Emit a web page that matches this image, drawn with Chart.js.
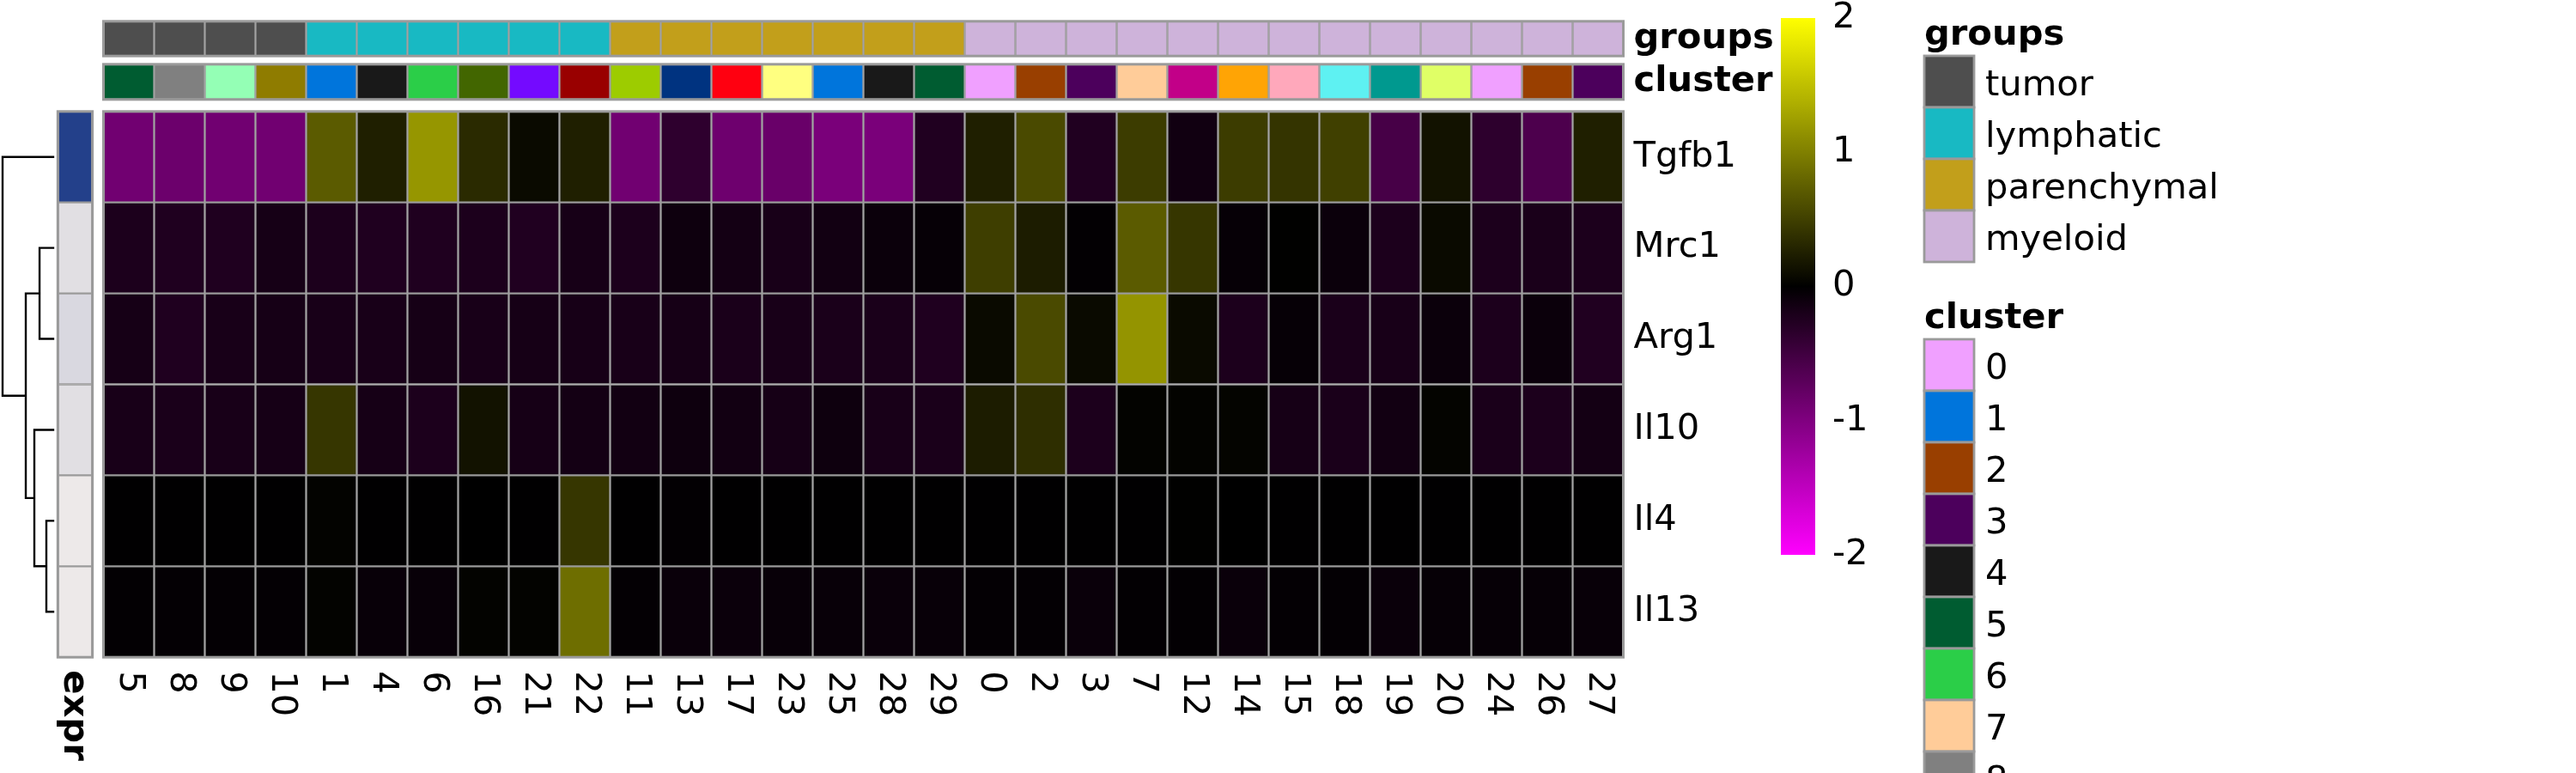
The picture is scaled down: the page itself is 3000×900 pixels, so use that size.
<!DOCTYPE html>
<html><head><meta charset="utf-8">
<script src="https://cdn.jsdelivr.net/npm/chart.js@4.4.1/dist/chart.umd.min.js"></script>
<style>
html,body{margin:0;padding:0;background:#fff;}
#wrap{position:relative;width:3000px;height:900px;overflow:hidden;background:#fff;}
canvas{position:absolute;}
</style></head><body>
<div id="wrap">
<canvas id="main" width="3000" height="900" style="left:0;top:0"></canvas>
<canvas id="dendro" width="120" height="900" style="left:0;top:0"></canvas>
<canvas id="cbar" width="260" height="900" style="left:2074px;top:0"></canvas>
</div>
<script>
// ---------------- DATA ----------------
const clusters = ['5','8','9','10','1','4','6','16','21','22','11','13','17','23','25','28','29','0','2','3','7','12','14','15','18','19','20','24','26','27'];
const columnGroups = ['tumor','tumor','tumor','tumor',
  'lymphatic','lymphatic','lymphatic','lymphatic','lymphatic','lymphatic',
  'parenchymal','parenchymal','parenchymal','parenchymal','parenchymal','parenchymal','parenchymal',
  'myeloid','myeloid','myeloid','myeloid','myeloid','myeloid','myeloid','myeloid','myeloid','myeloid','myeloid','myeloid','myeloid'];
const groupNames = ['tumor','lymphatic','parenchymal','myeloid'];
const groupColors = ['#4E4E4E','#18B9C3','#C29F1B','#CEB3DA'];
const clusterPalette = ['#F0A0FF','#0075DC','#993F00','#4C005C','#191919','#005C31','#2BCE48','#FFCC99',
  '#808080','#94FFB5','#8F7C00','#9DCC00','#C20088','#003380','#FFA405','#FFA8BB','#426600','#FF0010',
  '#5EF1F2','#00998F','#E0FF66','#740AFF','#990000','#FFFF80'];
const legendClusters = ['0','1','2','3','4','5','6','7','8','9','10','11','12','13','14','15','16','17','18','19','20','21','22','23','24','25','26','27','28','29'];

const genes = ['Tgfb1','Mrc1','Arg1','Il10','Il4','Il13'];
const tgfb1 = [-0.89,-0.85,-0.89,-0.89, 0.71,0.24,1.18,0.33,0.08,0.24, -0.89,-0.36,-0.86,-0.82,-0.96,-0.96,-0.25, 0.24,0.58,-0.25,0.47,-0.13,0.47,0.41,0.50,-0.56,0.14,-0.35,-0.60,0.24];
const mrc1  = [-0.22,-0.24,-0.24,-0.17, -0.22,-0.24,-0.24,-0.22,-0.25,-0.18, -0.22,-0.11,-0.16,-0.19,-0.14,-0.09,-0.05, 0.49,0.22,-0.02,0.71,0.42,-0.05,0.01,-0.09,-0.22,0.08,-0.22,-0.20,-0.22];
const arg1  = [-0.17,-0.24,-0.19,-0.17, -0.19,-0.19,-0.17,-0.19,-0.17,-0.18, -0.19,-0.17,-0.20,-0.19,-0.20,-0.20,-0.24, 0.08,0.58,0.08,1.16,0.08,-0.22,-0.05,-0.20,-0.19,-0.09,-0.22,-0.09,-0.25];
const il10  = [-0.19,-0.20,-0.19,-0.17, 0.42,-0.17,-0.22,0.14,-0.17,-0.16, -0.14,-0.11,-0.14,-0.17,-0.11,-0.19,-0.20, 0.22,0.36,-0.22,0.02,0.02,0.03,-0.17,-0.20,-0.14,0.03,-0.20,-0.22,-0.16];
const il4   = [-0.01,-0.01,-0.01,-0.01, 0.02,-0.01,-0.01,0.00,-0.01,0.42, -0.01,-0.02,-0.01,-0.01,-0.01,-0.01,-0.01, -0.01,-0.01,-0.01,-0.01,0.01,0.00,-0.01,-0.01,-0.01,-0.01,-0.01,-0.01,-0.01];
const il13  = [-0.02,-0.03,-0.03,-0.03, 0.02,-0.06,-0.06,0.02,0.02,0.86, -0.03,-0.08,-0.09,-0.06,-0.06,-0.08,-0.06, -0.03,-0.03,-0.08,-0.02,-0.02,-0.08,-0.03,-0.03,-0.08,-0.05,-0.05,-0.05,-0.06];
const geneValues = [tgfb1, mrc1, arg1, il10, il4, il13];

// row annotation "expr"
const exprValues = [1.0, 0.06, 0.10, 0.06, 0.0, 0.0];

// row dendrogram (leaves top->bottom = genes), merges with heights
const dendroMerges = [
  {a:'Mrc1', b:'Arg1', id:'A', h:0.27},
  {a:'Il4',  b:'Il13', id:'B', h:0.136},
  {a:'Il10', b:'B',    id:'C', h:0.373},
  {a:'A',    b:'C',    id:'D', h:0.542},
  {a:'Tgfb1',b:'D',    id:'R', h:1.0}
];
const colorbarTicks = [-2,-1,0,1,2];

// ---------------- STYLE / LAYOUT ----------------
const FONT = '"DejaVu Sans"';
const FS = 41.67;
Chart.defaults.font.family = 'DejaVu Sans';
Chart.defaults.color = '#000';
const GRID = '#9A9A9A';
const BW = 1.5;
const Y_MAX = 6.9915;
const GROUP_BAR = [6.610, 6.9915];
const CLUSTER_BAR = [6.132, 6.519];
const PAD = {left:120.5, right:0, top:24.8, bottom:134.8};
const HEAT_RIGHT = 1890.5;

function heatColor(v){
  const t = Math.min(1, Math.abs(v)/2);
  const c = Math.round(255*t);
  return v < 0 ? `rgb(${c},0,${c})` : `rgb(${c},${c},0)`;
}
function exprColor(v){
  const lo=[237,233,233], hi=[35,64,138];
  const c = lo.map((l,i)=>Math.round(l+(hi[i]-l)*v));
  return `rgb(${c[0]},${c[1]},${c[2]})`;
}
const clusterColor = c => clusterPalette[parseInt(c,10) % clusterPalette.length];

// ---------------- MAIN HEATMAP ----------------
const barCommon = {grouped:false, categoryPercentage:1, barPercentage:1, borderColor:GRID, borderWidth:BW, borderSkipped:false};
const datasets = [];
genes.forEach((g, gi) => {
  const r = genes.length - 1 - gi;
  datasets.push(Object.assign({label:g, data: clusters.map(() => [r, r+1]),
    backgroundColor: geneValues[gi].map(heatColor)}, barCommon));
});
datasets.push(Object.assign({label:'groups', data: clusters.map(() => GROUP_BAR.slice()),
  backgroundColor: columnGroups.map(g => groupColors[groupNames.indexOf(g)])}, barCommon));
datasets.push(Object.assign({label:'cluster', data: clusters.map(() => CLUSTER_BAR.slice()),
  backgroundColor: clusters.map(clusterColor)}, barCommon));

const rowTickValues = genes.map((g,gi) => genes.length - 1 - gi + 0.5)
  .concat([(CLUSTER_BAR[0]+CLUSTER_BAR[1])/2, (GROUP_BAR[0]+GROUP_BAR[1])/2]);
const rowTickLabels = genes.slice().concat(['cluster','groups']);

function drawLegend(ctx, title, items, colors, x, titleBaseline, boxTop){
  const bw = 58, bh = 60;
  ctx.fillStyle = '#000';
  ctx.font = `bold ${FS}px ${FONT}`;
  ctx.textAlign = 'left'; ctx.textBaseline = 'alphabetic';
  ctx.fillText(title, x, titleBaseline);
  ctx.font = `${FS}px ${FONT}`;
  items.forEach((it, i) => {
    const y = boxTop + i*bh;
    ctx.fillStyle = colors[i];
    ctx.fillRect(x, y, bw, bh);
    ctx.strokeStyle = GRID; ctx.lineWidth = 2.8;
    ctx.strokeRect(x, y, bw, bh);
    ctx.fillStyle = '#000';
    ctx.fillText(it, x + 71, y + bh/2 + 15.5);
  });
}

function strokeBlock(ctx, x0, x1, y0, y1){
  ctx.strokeStyle = GRID; ctx.lineWidth = 3;
  ctx.strokeRect(x0, Math.min(y0,y1), x1 - x0, Math.abs(y1 - y0));
}

const mainPlugin = {
  id:'mainExtras',
  afterDatasetsDraw(chart){
    const {ctx, chartArea:a, scales:{y}} = chart;
    ctx.save();
    strokeBlock(ctx, a.left, a.right, y.getPixelForValue(genes.length), y.getPixelForValue(0));
    strokeBlock(ctx, a.left, a.right, y.getPixelForValue(GROUP_BAR[1]), y.getPixelForValue(GROUP_BAR[0]));
    strokeBlock(ctx, a.left, a.right, y.getPixelForValue(CLUSTER_BAR[1]), y.getPixelForValue(CLUSTER_BAR[0]));
    ctx.restore();
  },
  afterDraw(chart){
    const {ctx, chartArea, scales} = chart;
    const x = scales.x;
    ctx.save();
    ctx.fillStyle = '#000';
    ctx.font = `${FS}px ${FONT}`;
    ctx.textAlign = 'left'; ctx.textBaseline = 'middle';
    clusters.forEach((c, i) => {
      ctx.save();
      ctx.translate(x.getPixelForValue(i) + 1, chartArea.bottom + 16);
      ctx.rotate(Math.PI/2);
      ctx.fillText(c, 0, 0);
      ctx.restore();
    });
    drawLegend(ctx, 'groups', groupNames, groupColors, 2241, 52, 65);
    drawLegend(ctx, 'cluster', legendClusters, legendClusters.map(clusterColor), 2241, 382, 395);
    ctx.restore();
  }
};

new Chart(document.getElementById('main'), {
  type:'bar',
  data:{labels:clusters, datasets},
  options:{
    responsive:false, animation:false, events:[],
    layout:{padding:PAD},
    plugins:{legend:{display:false}, tooltip:{enabled:false}},
    scales:{
      x:{type:'category', display:false, offset:true, grid:{display:false}},
      y:{type:'linear', position:'right', min:0, max:Y_MAX,
         grid:{display:false, drawTicks:false}, border:{display:false},
         afterBuildTicks: s => { s.ticks = rowTickValues.map(v => ({value:v})); },
         afterFit: s => { s.width = 3000 - HEAT_RIGHT; s.paddingTop = 0; s.paddingBottom = 0; },
         ticks:{padding:12, autoSkip:false, color:'#000',
           callback:(v, i) => rowTickLabels[i],
           font: c => ({family:'DejaVu Sans', size:FS, weight: c.index >= genes.length ? 'bold' : 'normal'})}
      }
    }
  },
  plugins:[mainPlugin]
});

// ---------------- DENDROGRAM + EXPR ANNOTATION ----------------
const EXPR_X = -0.432;
const EXPR_W = 40.3;
const leafY = {};
genes.forEach((g, gi) => { leafY[g] = genes.length - 1 - gi + 0.5; });
const nodePos = {};
genes.forEach(g => { nodePos[g] = {h:0, y:leafY[g]}; });
const dendroData = [];
dendroMerges.forEach(m => {
  const a = nodePos[m.a], b = nodePos[m.b];
  dendroData.push({x:a.h, y:a.y}, {x:m.h, y:a.y}, {x:m.h, y:b.y}, {x:b.h, y:b.y}, {x:null, y:null});
  nodePos[m.id] = {h:m.h, y:(a.y + b.y)/2};
});

const dendroPlugin = {
  id:'dendroExtras',
  afterDatasetsDraw(chart){
    const {ctx, scales:{x, y}} = chart;
    const cx = x.getPixelForValue(EXPR_X);
    ctx.save();
    strokeBlock(ctx, cx - EXPR_W/2, cx + EXPR_W/2, y.getPixelForValue(genes.length), y.getPixelForValue(0));
    ctx.restore();
  },
  afterDraw(chart){
    const {ctx, chartArea, scales} = chart;
    ctx.save();
    ctx.fillStyle = '#000';
    ctx.font = `bold ${FS}px ${FONT}`;
    ctx.textAlign = 'left'; ctx.textBaseline = 'middle';
    ctx.translate(scales.x.getPixelForValue(EXPR_X) - 2, chartArea.bottom + 15);
    ctx.rotate(Math.PI/2);
    ctx.fillText('expr', 0, 0);
    ctx.restore();
  }
};

new Chart(document.getElementById('dendro'), {
  type:'scatter',
  data:{datasets:[
    {type:'bar', label:'expr', data: genes.map((g, gi) => ({x:EXPR_X, y:[leafY[g]-0.5, leafY[g]+0.5]})),
     backgroundColor: exprValues.map(exprColor), borderColor:GRID, borderWidth:BW, borderSkipped:false,
     grouped:false, barThickness:EXPR_W},
    {type:'line', label:'dendrogram', data: dendroData, borderColor:'#000', borderWidth:2.4,
     pointRadius:0, fill:false, tension:0, spanGaps:false, borderCapStyle:'square'}
  ]},
  options:{
    responsive:false, animation:false, events:[],
    layout:{padding:{left:0,right:0,top:PAD.top,bottom:PAD.bottom}},
    plugins:{legend:{display:false}, tooltip:{enabled:false}},
    scales:{
      x:{type:'linear', display:false, reverse:true, min:-0.983, max:1.0508, offset:false},
      y:{type:'linear', display:false, min:0, max:Y_MAX}
    }
  },
  plugins:[dendroPlugin]
});

// ---------------- COLOR BAR ----------------
const cbarPlugin = {
  id:'cbarFill',
  beforeDraw(chart){
    const {ctx, chartArea:a, scales} = chart;
    const y = scales.y;
    const hi = colorbarTicks[colorbarTicks.length-1], lo = colorbarTicks[0];
    const g = ctx.createLinearGradient(0, y.getPixelForValue(hi), 0, y.getPixelForValue(lo));
    const n = 40;
    for (let i = 0; i <= n; i++){
      g.addColorStop(i/n, heatColor(hi - i*(hi - lo)/n));
    }
    ctx.save();
    ctx.fillStyle = g;
    ctx.fillRect(a.left, a.top, a.right - a.left, a.bottom - a.top);
    ctx.restore();
  }
};
new Chart(document.getElementById('cbar'), {
  type:'scatter',
  data:{datasets:[]},
  options:{
    responsive:false, animation:false, events:[],
    layout:{padding:{left:0,right:0,top:21,bottom:254}},
    plugins:{legend:{display:false}, tooltip:{enabled:false}},
    scales:{
      x:{type:'linear', display:false, min:0, max:1},
      y:{type:'linear', position:'right', min:-2, max:2,
         grid:{display:false, drawTicks:false}, border:{display:false},
         afterBuildTicks: s => { s.ticks = colorbarTicks.map(v => ({value:v})); },
         afterFit: s => { s.width = 260 - 40; s.paddingTop = 0; s.paddingBottom = 0; },
         ticks:{padding:20, color:'#000', font:{family:'DejaVu Sans', size:FS}, callback: v => String(v)}}
    }
  },
  plugins:[cbarPlugin]
});
</script>
</body></html>
